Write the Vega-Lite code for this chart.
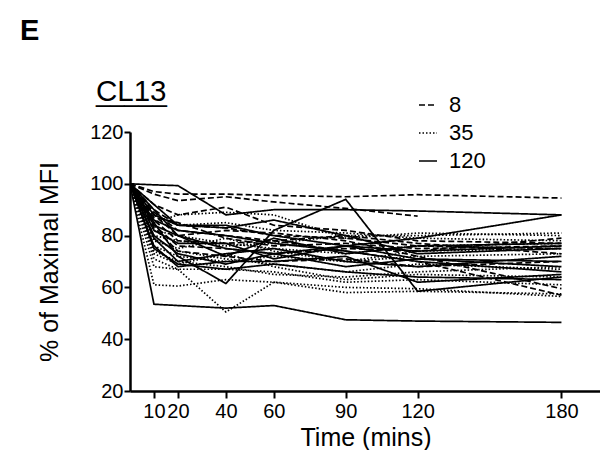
{
  "$schema": "https://vega.github.io/schema/vega-lite/v6.json",
  "padding": {"left": 20, "top": 17, "right": 0, "bottom": 0},
  "background": "white",
  "title": {"text": "E", "anchor": "start", "frame": "group", "dx": -110, "fontSize": 29, "fontWeight": "bold", "font": "Liberation Sans", "color": "black", "offset": 31},
  "config": {
    "view": {"stroke": null},
    "font": "Liberation Sans",
    "axis": {"domainColor": "black", "domainWidth": 2.5, "tickColor": "black", "tickWidth": 2, "labelColor": "black", "titleColor": "black", "grid": false, "labelFont": "Liberation Sans", "titleFont": "Liberation Sans", "titleFontWeight": "normal"}
  },
  "vconcat": [
    {
      "width": 471,
      "height": 259,
      "title": {"text": "CL13", "subtitle": "_____", "anchor": "start", "frame": "group", "dx": -34, "fontSize": 29.5, "fontWeight": "normal", "font": "Liberation Sans", "color": "black", "subtitleFont": "Liberation Sans", "subtitleFontSize": 25.5, "subtitleColor": "black", "subtitlePadding": -26, "offset": 14},
      "data": {"values": [
        {"id":"d1","dose":"8","t":0,"v":100},{"id":"d1","dose":"8","t":10,"v":97},{"id":"d1","dose":"8","t":20,"v":96},{"id":"d1","dose":"8","t":40,"v":96},{"id":"d1","dose":"8","t":60,"v":95.5},{"id":"d1","dose":"8","t":90,"v":95},{"id":"d1","dose":"8","t":120,"v":95.8},{"id":"d1","dose":"8","t":180,"v":94.5},
        {"id":"d2","dose":"8","t":0,"v":100},{"id":"d2","dose":"8","t":10,"v":96},{"id":"d2","dose":"8","t":20,"v":93.5},{"id":"d2","dose":"8","t":40,"v":95},{"id":"d2","dose":"8","t":60,"v":93},{"id":"d2","dose":"8","t":90,"v":90.5},{"id":"d2","dose":"8","t":120,"v":87.5},
        {"id":"d3","dose":"8","t":0,"v":100},{"id":"d3","dose":"8","t":10,"v":92},{"id":"d3","dose":"8","t":20,"v":88},{"id":"d3","dose":"8","t":40,"v":91},{"id":"d3","dose":"8","t":60,"v":84},{"id":"d3","dose":"8","t":90,"v":82},{"id":"d3","dose":"8","t":120,"v":78},{"id":"d3","dose":"8","t":180,"v":77},
        {"id":"d4","dose":"8","t":0,"v":100},{"id":"d4","dose":"8","t":10,"v":90},{"id":"d4","dose":"8","t":20,"v":84},{"id":"d4","dose":"8","t":40,"v":83},{"id":"d4","dose":"8","t":60,"v":80},{"id":"d4","dose":"8","t":90,"v":79},{"id":"d4","dose":"8","t":120,"v":76},{"id":"d4","dose":"8","t":180,"v":75},
        {"id":"d5","dose":"8","t":0,"v":100},{"id":"d5","dose":"8","t":10,"v":88},{"id":"d5","dose":"8","t":20,"v":80},{"id":"d5","dose":"8","t":40,"v":82},{"id":"d5","dose":"8","t":60,"v":81},{"id":"d5","dose":"8","t":90,"v":78},{"id":"d5","dose":"8","t":120,"v":72},{"id":"d5","dose":"8","t":180,"v":59.5},
        {"id":"d6","dose":"8","t":0,"v":100},{"id":"d6","dose":"8","t":10,"v":86},{"id":"d6","dose":"8","t":20,"v":78},{"id":"d6","dose":"8","t":40,"v":77},{"id":"d6","dose":"8","t":60,"v":78},{"id":"d6","dose":"8","t":90,"v":74},{"id":"d6","dose":"8","t":120,"v":70},{"id":"d6","dose":"8","t":180,"v":57},
        {"id":"d7","dose":"8","t":0,"v":100},{"id":"d7","dose":"8","t":10,"v":84},{"id":"d7","dose":"8","t":20,"v":76},{"id":"d7","dose":"8","t":40,"v":75},{"id":"d7","dose":"8","t":60,"v":73},{"id":"d7","dose":"8","t":90,"v":75},{"id":"d7","dose":"8","t":120,"v":74},{"id":"d7","dose":"8","t":180,"v":79},
        {"id":"d8","dose":"8","t":0,"v":100},{"id":"d8","dose":"8","t":10,"v":89},{"id":"d8","dose":"8","t":20,"v":82},{"id":"d8","dose":"8","t":40,"v":80},{"id":"d8","dose":"8","t":60,"v":78},{"id":"d8","dose":"8","t":90,"v":80},{"id":"d8","dose":"8","t":120,"v":77},{"id":"d8","dose":"8","t":180,"v":73},
        {"id":"d9","dose":"8","t":0,"v":100},{"id":"d9","dose":"8","t":10,"v":83},{"id":"d9","dose":"8","t":20,"v":74},{"id":"d9","dose":"8","t":40,"v":72},{"id":"d9","dose":"8","t":60,"v":70},{"id":"d9","dose":"8","t":90,"v":71},{"id":"d9","dose":"8","t":120,"v":68},{"id":"d9","dose":"8","t":180,"v":70},
        {"id":"d10","dose":"8","t":0,"v":100},{"id":"d10","dose":"8","t":10,"v":87},{"id":"d10","dose":"8","t":20,"v":85},{"id":"d10","dose":"8","t":40,"v":79},{"id":"d10","dose":"8","t":60,"v":76},{"id":"d10","dose":"8","t":90,"v":77},{"id":"d10","dose":"8","t":120,"v":75},{"id":"d10","dose":"8","t":180,"v":76},
        {"id":"t1","dose":"35","t":0,"v":100},{"id":"t1","dose":"35","t":10,"v":71},{"id":"t1","dose":"35","t":20,"v":67},{"id":"t1","dose":"35","t":40,"v":50.5},{"id":"t1","dose":"35","t":60,"v":62},{"id":"t1","dose":"35","t":90,"v":60},{"id":"t1","dose":"35","t":120,"v":59.5},{"id":"t1","dose":"35","t":180,"v":56.5},
        {"id":"t2","dose":"35","t":0,"v":100},{"id":"t2","dose":"35","t":10,"v":61},{"id":"t2","dose":"35","t":20,"v":60.5},{"id":"t2","dose":"35","t":40,"v":63},{"id":"t2","dose":"35","t":60,"v":62},{"id":"t2","dose":"35","t":90,"v":58},{"id":"t2","dose":"35","t":120,"v":58.5},{"id":"t2","dose":"35","t":180,"v":57.5},
        {"id":"t3","dose":"35","t":0,"v":100},{"id":"t3","dose":"35","t":10,"v":68},{"id":"t3","dose":"35","t":20,"v":67},{"id":"t3","dose":"35","t":40,"v":67},{"id":"t3","dose":"35","t":60,"v":66},{"id":"t3","dose":"35","t":90,"v":62},{"id":"t3","dose":"35","t":120,"v":63},{"id":"t3","dose":"35","t":180,"v":61},
        {"id":"t4","dose":"35","t":0,"v":100},{"id":"t4","dose":"35","t":10,"v":80},{"id":"t4","dose":"35","t":20,"v":78},{"id":"t4","dose":"35","t":40,"v":76},{"id":"t4","dose":"35","t":60,"v":77},{"id":"t4","dose":"35","t":90,"v":80},{"id":"t4","dose":"35","t":120,"v":80},{"id":"t4","dose":"35","t":180,"v":81},
        {"id":"t5","dose":"35","t":0,"v":100},{"id":"t5","dose":"35","t":10,"v":85},{"id":"t5","dose":"35","t":20,"v":88},{"id":"t5","dose":"35","t":40,"v":89},{"id":"t5","dose":"35","t":60,"v":88},{"id":"t5","dose":"35","t":90,"v":79},{"id":"t5","dose":"35","t":120,"v":81},{"id":"t5","dose":"35","t":180,"v":80},
        {"id":"t6","dose":"35","t":0,"v":100},{"id":"t6","dose":"35","t":10,"v":76},{"id":"t6","dose":"35","t":20,"v":72},{"id":"t6","dose":"35","t":40,"v":70},{"id":"t6","dose":"35","t":60,"v":72},{"id":"t6","dose":"35","t":90,"v":70},{"id":"t6","dose":"35","t":120,"v":72},{"id":"t6","dose":"35","t":180,"v":73},
        {"id":"t7","dose":"35","t":0,"v":100},{"id":"t7","dose":"35","t":10,"v":79},{"id":"t7","dose":"35","t":20,"v":74},{"id":"t7","dose":"35","t":40,"v":71},{"id":"t7","dose":"35","t":60,"v":69},{"id":"t7","dose":"35","t":90,"v":66},{"id":"t7","dose":"35","t":120,"v":69},{"id":"t7","dose":"35","t":180,"v":67},
        {"id":"t8","dose":"35","t":0,"v":100},{"id":"t8","dose":"35","t":10,"v":82},{"id":"t8","dose":"35","t":20,"v":80},{"id":"t8","dose":"35","t":40,"v":77},{"id":"t8","dose":"35","t":60,"v":75},{"id":"t8","dose":"35","t":90,"v":73},{"id":"t8","dose":"35","t":120,"v":76},{"id":"t8","dose":"35","t":180,"v":77},
        {"id":"t9","dose":"35","t":0,"v":100},{"id":"t9","dose":"35","t":10,"v":74},{"id":"t9","dose":"35","t":20,"v":70},{"id":"t9","dose":"35","t":40,"v":68},{"id":"t9","dose":"35","t":60,"v":65},{"id":"t9","dose":"35","t":90,"v":64},{"id":"t9","dose":"35","t":120,"v":66},{"id":"t9","dose":"35","t":180,"v":68},
        {"id":"t10","dose":"35","t":0,"v":100},{"id":"t10","dose":"35","t":10,"v":88},{"id":"t10","dose":"35","t":20,"v":84},{"id":"t10","dose":"35","t":40,"v":85},{"id":"t10","dose":"35","t":60,"v":82},{"id":"t10","dose":"35","t":90,"v":81},{"id":"t10","dose":"35","t":120,"v":79},{"id":"t10","dose":"35","t":180,"v":78},
        {"id":"t11","dose":"35","t":0,"v":100},{"id":"t11","dose":"35","t":10,"v":78},{"id":"t11","dose":"35","t":20,"v":75},{"id":"t11","dose":"35","t":40,"v":79},{"id":"t11","dose":"35","t":60,"v":74},{"id":"t11","dose":"35","t":90,"v":70},{"id":"t11","dose":"35","t":120,"v":74},{"id":"t11","dose":"35","t":180,"v":75},
        {"id":"t12","dose":"35","t":0,"v":100},{"id":"t12","dose":"35","t":10,"v":73},{"id":"t12","dose":"35","t":20,"v":69},{"id":"t12","dose":"35","t":40,"v":73},{"id":"t12","dose":"35","t":60,"v":68},{"id":"t12","dose":"35","t":90,"v":63},{"id":"t12","dose":"35","t":120,"v":65},{"id":"t12","dose":"35","t":180,"v":64},
        {"id":"s1","dose":"120","t":0,"v":100},{"id":"s1","dose":"120","t":10,"v":53.5},{"id":"s1","dose":"120","t":20,"v":53},{"id":"s1","dose":"120","t":40,"v":52},{"id":"s1","dose":"120","t":60,"v":53},{"id":"s1","dose":"120","t":90,"v":47.5},{"id":"s1","dose":"120","t":120,"v":47},{"id":"s1","dose":"120","t":180,"v":46.5},
        {"id":"s2","dose":"120","t":0,"v":100},{"id":"s2","dose":"120","t":10,"v":99.6},{"id":"s2","dose":"120","t":20,"v":99.3},{"id":"s2","dose":"120","t":40,"v":88},{"id":"s2","dose":"120","t":60,"v":90},{"id":"s2","dose":"120","t":90,"v":90},{"id":"s2","dose":"120","t":120,"v":89.5},{"id":"s2","dose":"120","t":180,"v":88},
        {"id":"s3","dose":"120","t":0,"v":100},{"id":"s3","dose":"120","t":10,"v":85},{"id":"s3","dose":"120","t":20,"v":72},{"id":"s3","dose":"120","t":40,"v":61.5},{"id":"s3","dose":"120","t":60,"v":82},{"id":"s3","dose":"120","t":90,"v":94},{"id":"s3","dose":"120","t":120,"v":58.5},{"id":"s3","dose":"120","t":180,"v":64},
        {"id":"s4","dose":"120","t":0,"v":100},{"id":"s4","dose":"120","t":10,"v":90},{"id":"s4","dose":"120","t":20,"v":80},{"id":"s4","dose":"120","t":40,"v":75},{"id":"s4","dose":"120","t":60,"v":73},{"id":"s4","dose":"120","t":90,"v":76},{"id":"s4","dose":"120","t":120,"v":79},{"id":"s4","dose":"120","t":180,"v":88},
        {"id":"s5","dose":"120","t":0,"v":100},{"id":"s5","dose":"120","t":10,"v":76},{"id":"s5","dose":"120","t":20,"v":68},{"id":"s5","dose":"120","t":40,"v":70},{"id":"s5","dose":"120","t":60,"v":70},{"id":"s5","dose":"120","t":90,"v":72},{"id":"s5","dose":"120","t":120,"v":62},{"id":"s5","dose":"120","t":180,"v":65},
        {"id":"s6","dose":"120","t":0,"v":100},{"id":"s6","dose":"120","t":10,"v":80},{"id":"s6","dose":"120","t":20,"v":73},{"id":"s6","dose":"120","t":40,"v":69},{"id":"s6","dose":"120","t":60,"v":73},{"id":"s6","dose":"120","t":90,"v":68},{"id":"s6","dose":"120","t":120,"v":71},{"id":"s6","dose":"120","t":180,"v":70},
        {"id":"s7","dose":"120","t":0,"v":100},{"id":"s7","dose":"120","t":10,"v":88},{"id":"s7","dose":"120","t":20,"v":84},{"id":"s7","dose":"120","t":40,"v":84},{"id":"s7","dose":"120","t":60,"v":80},{"id":"s7","dose":"120","t":90,"v":76},{"id":"s7","dose":"120","t":120,"v":71},{"id":"s7","dose":"120","t":180,"v":68},
        {"id":"s8","dose":"120","t":0,"v":100},{"id":"s8","dose":"120","t":10,"v":82},{"id":"s8","dose":"120","t":20,"v":77},{"id":"s8","dose":"120","t":40,"v":77},{"id":"s8","dose":"120","t":60,"v":71},{"id":"s8","dose":"120","t":90,"v":76},{"id":"s8","dose":"120","t":120,"v":74},{"id":"s8","dose":"120","t":180,"v":76},
        {"id":"s9","dose":"120","t":0,"v":100},{"id":"s9","dose":"120","t":10,"v":79},{"id":"s9","dose":"120","t":20,"v":70},{"id":"s9","dose":"120","t":40,"v":73},{"id":"s9","dose":"120","t":60,"v":75},{"id":"s9","dose":"120","t":90,"v":70},{"id":"s9","dose":"120","t":120,"v":68},{"id":"s9","dose":"120","t":180,"v":72},
        {"id":"s10","dose":"120","t":0,"v":100},{"id":"s10","dose":"120","t":10,"v":84},{"id":"s10","dose":"120","t":20,"v":80},{"id":"s10","dose":"120","t":40,"v":72},{"id":"s10","dose":"120","t":60,"v":79},{"id":"s10","dose":"120","t":90,"v":73},{"id":"s10","dose":"120","t":120,"v":76},{"id":"s10","dose":"120","t":180,"v":77},
        {"id":"s11","dose":"120","t":0,"v":100},{"id":"s11","dose":"120","t":10,"v":75},{"id":"s11","dose":"120","t":20,"v":69},{"id":"s11","dose":"120","t":40,"v":67},{"id":"s11","dose":"120","t":60,"v":69},{"id":"s11","dose":"120","t":90,"v":66},{"id":"s11","dose":"120","t":120,"v":64},{"id":"s11","dose":"120","t":180,"v":63},
        {"id":"s12","dose":"120","t":0,"v":100},{"id":"s12","dose":"120","t":10,"v":86},{"id":"s12","dose":"120","t":20,"v":82},{"id":"s12","dose":"120","t":40,"v":80},{"id":"s12","dose":"120","t":60,"v":77},{"id":"s12","dose":"120","t":90,"v":74},{"id":"s12","dose":"120","t":120,"v":70},{"id":"s12","dose":"120","t":180,"v":66},
        {"id":"s13","dose":"120","t":0,"v":100},{"id":"s13","dose":"120","t":10,"v":92},{"id":"s13","dose":"120","t":20,"v":84},{"id":"s13","dose":"120","t":40,"v":83},{"id":"s13","dose":"120","t":60,"v":86},{"id":"s13","dose":"120","t":90,"v":80},{"id":"s13","dose":"120","t":120,"v":73},{"id":"s13","dose":"120","t":180,"v":75}
      ]},
      "mark": {"type": "line", "strokeWidth": 1.7, "color": "black", "clip": true},
      "encoding": {
        "x": {"field": "t", "type": "quantitative", "scale": {"domain": [0, 196.5], "nice": false, "zero": false},
              "axis": {"values": [10, 20, 40, 60, 90, 120, 180], "labelOverlap": false, "labelFlush": false, "labelFontSize": 20, "labelPadding": 3, "tickSize": 7, "title": "Time (mins)", "titleFontSize": 25, "titlePadding": 4}},
        "y": {"field": "v", "type": "quantitative", "scale": {"domain": [20, 120], "nice": false, "zero": false},
              "axis": {"values": [20, 40, 60, 80, 100, 120], "labelFontSize": 20, "labelPadding": 1, "tickSize": 6, "labelFlush": false, "title": "% of Maximal MFI", "titleFontSize": 25, "titlePadding": 27}},
        "detail": {"field": "id", "type": "nominal"},
        "strokeDash": {"field": "dose", "type": "nominal",
                       "scale": {"domain": ["8", "35", "120"], "range": [[6, 3], [1.5, 2], [1, 0]]},
                       "legend": {"orient": "none", "legendX": 287, "legendY": -38, "title": null, "padding": 0,
                                  "labelFontSize": 22, "labelColor": "black", "labelFont": "Liberation Sans", "labelOffset": 10,
                                  "symbolType": "stroke", "symbolSize": 324, "symbolStrokeWidth": 1.5, "symbolStrokeColor": "black", "rowPadding": 6}}
      }
    }
  ]
}
